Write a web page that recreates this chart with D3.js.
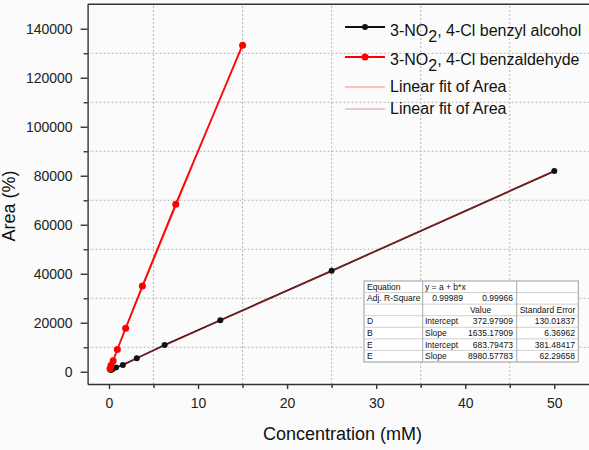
<!DOCTYPE html>
<html>
<head>
<meta charset="utf-8">
<script src="https://cdn.jsdelivr.net/npm/d3@7"></script>
<style>
  body { margin: 0; background: #fbfbfb; }
  svg { display: block; font-family: "Liberation Sans", Arial, sans-serif; }
</style>
</head>
<body>
<script>
// data
const alcoholConc = [0.195, 0.39, 0.78, 1.56, 3.125, 6.25, 12.5, 25, 50];
const alcoholArea = [700, 1000, 1700, 2800, 5500, 10900, 21000, 41200, 81900];
const aldehydeConc = [0.117, 0.234, 0.469, 0.9375, 1.875, 3.75, 7.5, 15];
const aldehydeArea = [1200, 2700, 4500, 9100, 17800, 35000, 68400, 133300];

const xTicks = [0, 10, 20, 30, 40, 50];
const xMinor = [5, 15, 25, 35, 45];
const yTicks = [0, 20000, 40000, 60000, 80000, 100000, 120000, 140000];
const yMinor = [10000, 30000, 50000, 70000, 90000, 110000, 130000];

const tableRows = [
  ['Equation', 'y = a + b*x', '', ''],
  ['Adj. R-Square', '0.99989', '0.99966', ''],
  ['', '', 'Value', 'Standard Error'],
  ['D', 'Intercept', '372.97909', '130.01837'],
  ['B', 'Slope', '1635.17909', '6.36962'],
  ['E', 'Intercept', '683.79473', '381.48417'],
  ['E', 'Slope', '8980.57783', '62.29658']
];

const width = 589, height = 450;
const svg = d3.select('body').append('svg')
  .attr('width', width).attr('height', height);

const x = d3.scaleLinear().domain([-2.4, 54.2]).range([87.6, 591.7]);
const y = d3.scaleLinear().domain([-5000, 150000]).range([384, 4.25]);

//dotted grid at the minor positions
svg.append('g').selectAll('line').data(xMinor).join('line')
  .attr('x1', d => x(d)).attr('x2', d => x(d))
  .attr('y1', y(-5000)).attr('y2', y(150000))
  .attr('stroke', '#b8b8b8').attr('stroke-dasharray', '2,2');
svg.append('g').selectAll('line').data(yMinor).join('line')
  .attr('x1', x(-2.4)).attr('x2', width)
  .attr('y1', d => y(d)).attr('y2', d => y(d))
  .attr('stroke', '#b8b8b8').attr('stroke-dasharray', '2,2');

// least squares fit of the read points
function fit(xs, ys) {
  const mx = d3.mean(xs), my = d3.mean(ys);
  const b = d3.sum(xs, (v, i) => (v - mx) * (ys[i] - my)) / d3.sum(xs, v => (v - mx) * (v - mx));
  return { a: my - b * mx, b: b };
}

const series = [
  { conc: alcoholConc, area: alcoholArea, color: '#111', r: 3 },
  { conc: aldehydeConc, area: aldehydeArea, color: '#ff0000', r: 3.5 }
];

const line = d3.line().x(d => x(d[0])).y(d => y(d[1]));

series.forEach(s => {
  const pts = s.conc.map((c, i) => [c, s.area[i]]);
  svg.append('path').datum(pts)
    .attr('d', line).attr('fill', 'none')
    .attr('stroke', s.color).attr('stroke-width', 1.8);
  const f = fit(s.conc, s.area);
  const x0 = d3.min(s.conc), x1 = d3.max(s.conc);
  svg.append('path').datum([[x0, f.a + f.b * x0], [x1, f.a + f.b * x1]])
    .attr('d', line).attr('fill', 'none')
    .attr('stroke', '#e82020').attr('stroke-width', 0.9).attr('opacity', 0.85);
  svg.append('g').selectAll('circle').data(pts).join('circle')
    .attr('cx', d => x(d[0])).attr('cy', d => y(d[1]))
    .attr('r', s.r).attr('fill', s.color);
});

// axes
const axisColor = '#333';
svg.append('g').attr('transform', `translate(0,${y(-5000)})`)
  .call(d3.axisBottom(x).tickValues(xTicks).tickSize(5).tickSizeOuter(0).tickPadding(9).tickFormat(d3.format('d')));
svg.append('g').attr('transform', `translate(0,${y(-5000)})`)
  .call(d3.axisBottom(x).tickValues(xMinor).tickSize(4).tickSizeOuter(0).tickFormat(''))
  .select('.domain').remove();
svg.append('g').attr('transform', `translate(${x(-2.4)},0)`)
  .call(d3.axisLeft(y).tickValues(yTicks).tickSize(7).tickSizeOuter(0).tickPadding(8).tickFormat(d3.format('d')));
svg.append('g').attr('transform', `translate(${x(-2.4)},0)`)
  .call(d3.axisLeft(y).tickValues(yMinor).tickSize(4).tickSizeOuter(0).tickFormat(''))
  .select('.domain').remove();

svg.selectAll('.domain, .tick line').attr('stroke', axisColor).attr('stroke-width', 1.4);
svg.selectAll('.tick text').attr('font-size', 14).attr('fill', '#222')
  .attr('font-family', '"Liberation Sans", Arial, sans-serif');

// top frame line
svg.append('line')
  .attr('x1', x(-2.4)).attr('x2', width)
  .attr('y1', y(150000)).attr('y2', y(150000))
  .attr('stroke', axisColor).attr('stroke-width', 1.4);

// axis titles
svg.append('text')
  .attr('x', 342.5).attr('y', 440)
  .attr('text-anchor', 'middle').attr('font-size', 18).attr('fill', '#111')
  .text('Concentration (mM)');
svg.append('text')
  .attr('transform', 'translate(15,206) rotate(-90)')
  .attr('text-anchor', 'middle').attr('font-size', 18).attr('fill', '#111')
  .text('Area (%)');

// legend
const legend = [
  { name: 'benzyl alcohol', color: '#111', marker: 3, ly: 27, ty: 36 },
  { name: 'benzaldehyde', color: '#ff0000', marker: 3.5, ly: 57, ty: 65 },
  { name: null, color: '#ff8080', marker: 0, ly: 87, ty: 92.3 },
  { name: null, color: '#e89494', marker: 0, ly: 109, ty: 114.3 }
];
legend.forEach(l => {
  svg.append('line').attr('x1', 345).attr('x2', 385)
    .attr('y1', l.ly).attr('y2', l.ly)
    .attr('stroke', l.color).attr('stroke-width', l.marker ? 1.8 : 1);
  if (l.marker) {
    svg.append('circle').attr('cx', 365).attr('cy', l.ly).attr('r', l.marker).attr('fill', l.color);
  }
  const t = svg.append('text').attr('x', 390).attr('y', l.ty)
    .attr('font-size', 16).attr('fill', '#111');
  if (l.name) {
    t.append('tspan').text('3-NO');
    t.append('tspan').attr('dy', 6).text('2');
    t.append('tspan').attr('dy', -6).text(', 4-Cl ' + l.name);
  } else {
    t.text('Linear fit of Area');
  }
});

// fit results table
const tx = [364, 422.7, 516.7, 578.3];
const tTop = 281, rowH = 11.57;
const tg = svg.append('g');
tg.append('rect').attr('x', tx[0]).attr('y', tTop)
  .attr('width', tx[3] - tx[0]).attr('height', rowH * tableRows.length)
  .attr('fill', '#fff').attr('stroke', '#999').attr('stroke-width', 1);
d3.range(1, tableRows.length).forEach(i => {
  tg.append('line').attr('x1', tx[0]).attr('x2', tx[3])
    .attr('y1', tTop + i * rowH).attr('y2', tTop + i * rowH)
    .attr('stroke', '#d0d0d0');
});
[tx[1], tx[2]].forEach(v => {
  tg.append('line').attr('x1', v).attr('x2', v)
    .attr('y1', tTop).attr('y2', tTop + rowH * tableRows.length)
    .attr('stroke', '#aaa');
});
const cellX = [[367, 'start'], [425, 'start'], [513, 'end'], [575, 'end']];
tableRows.forEach((row, i) => {
  const ty = tTop + i * rowH + rowH / 2 + 3;
  row.forEach((txt, j) => {
    if (!txt) return;
    let px = cellX[j][0], anchor = cellX[j][1];
    if (i === 1 && j === 1) { px = 463; anchor = 'end'; }
    if (i === 2 && j === 2) { px = 470; anchor = 'start'; }
    if (i === 2 && j === 3) { px = 547.5; anchor = 'middle'; }
    tg.append('text').attr('x', px).attr('y', ty)
      .attr('text-anchor', anchor).attr('font-size', 8.5).attr('fill', '#111')
      .text(txt);
  });
});
</script>
</body>
</html>
